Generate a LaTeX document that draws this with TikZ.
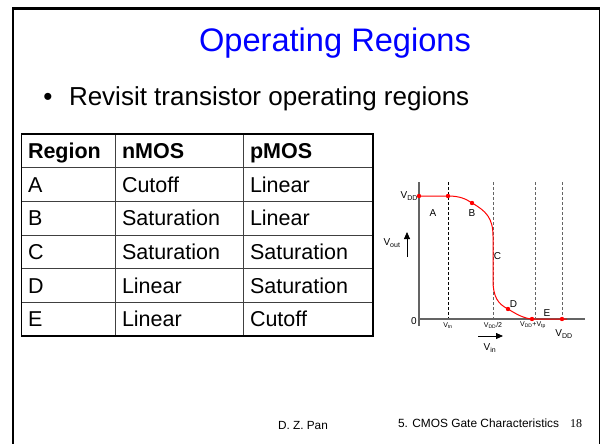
\documentclass[tikz,border=0pt]{standalone}
\usepackage{fontspec}
\setmainfont{Liberation Sans}
\newfontfamily\pagenumfont{Liberation Serif}
\usetikzlibrary{arrows.meta}
\definecolor{titleblue}{RGB}{0,0,255}
\definecolor{axisgrey}{RGB}{100,100,100}
\definecolor{curvered}{RGB}{255,0,0}
\newcommand\fsz[1]{\fontsize{#1}{#1}\selectfont}
\begin{document}
\begin{tikzpicture}[x=1pt,y=-1pt,
  every node/.style={inner sep=0pt, outer sep=0pt},
  cell/.style={anchor=base west, font=\fsz{21.5}},
  headcell/.style={anchor=base west, font=\fsz{21.5}\bfseries},
  lbl/.style={font=\fsz{10}},
  ticklbl/.style={font=\fsz{7}},
  guide/.style={dashed, dash pattern=on 3pt off 2pt, line width=0.7pt},
  axis/.style={draw=axisgrey, line width=1.1pt},
  vdot/.style={fill=curvered}]
\useasboundingbox (0,0) rectangle (602,444);
\fill[white] (0,0) rectangle (602,444);

% slide frame
\draw[line width=2.5pt] (13,444) -- (13,8.5) -- (599.5,8.5);
\draw[line width=1.5pt] (599.5,8.5) -- (599.5,444);

% title and bullet
\node[anchor=base, font=\fsz{32.6}, text=titleblue] (title) at (335,52) {Operating Regions};
\node[anchor=base, font=\fsz{26}] (dot) at (48,105) {\textbullet};
\node[anchor=base west, font=\fsz{26}] (bullet) at (69,105) {Revisit transistor operating regions};

% table grid
\foreach \y in {167.7,201.3,235,268.7,302.3}
  \draw[line width=0.8pt, draw=black!75] (21.7,\y) -- (373,\y);
\foreach \x in {115,243}
  \draw[line width=0.8pt, draw=black!75] (\x,134) -- (\x,336);
\draw[line width=1.5pt] (21.7,134) rectangle (373,336);

% table text
\node[headcell] (h1) at (28,158.5) {Region};
\node[headcell] (h2) at (122,158.5) {nMOS};
\node[headcell] (h3) at (250,158.5) {pMOS};
\foreach \r/\a/\b/\c [count=\i] in {A/Cutoff/Linear, B/Saturation/Linear, C/Saturation/Saturation, D/Linear/Saturation, E/Linear/Cutoff}{
  \node[cell] (r\i a) at (28,158.5+33.67*\i) {\r};
  \node[cell] (r\i b) at (122,158.5+33.67*\i) {\a};
  \node[cell] (r\i c) at (250,158.5+33.67*\i) {\b};
}

% transfer characteristic: guides
\draw[guide, draw=black] (448,182) -- (448,319);
\draw[guide, draw=axisgrey] (493,182) -- (493,319);
\draw[guide, draw=axisgrey] (535,182) -- (535,319);
\draw[guide, draw=axisgrey] (562,182) -- (562,319);

% axes
\draw[axis] (419,182) -- (419,326);
\draw[axis] (418,319) -- (585,319);

% curve
\draw[curvered, line width=1pt]
  (419,196) -- (448,196)
  .. controls (460,196) and (466,199) .. (472,203)
  .. controls (486,211) and (493,218) .. (493,236)
  -- (493,280)
  .. controls (493,297) and (498,304) .. (508,309)
  .. controls (516,314) and (524,318.5) .. (532,319)
  -- (567,319);
\foreach \p in {(419,196),(448,196),(472,203),(508,309),(532,319),(562,319)}
  \fill[vdot] \p circle (2.2);

% curve labels
\node[lbl, anchor=east] (vddtop) at (418,196) {V\textsubscript{DD}};
\node[lbl] (la) at (433,213) {A};
\node[lbl] (lb) at (472,213) {B};
\node[lbl] (lc) at (497.5,256) {C};
\node[lbl] (ld) at (513.5,304) {D};
\node[lbl] (le) at (547,313) {E};
\node[lbl] (zero) at (414,321) {0};
\node[lbl] (vout) at (392,243) {V\textsubscript{out}};
\coordinate (voutlo) at (407,257);
\coordinate (vouthi) at (407,232);
\draw[-{Triangle[length=7pt,width=6pt]}, line width=0.8pt] (voutlo) -- (vouthi);

\node[ticklbl] (vtn) at (448,325.5) {V\textsubscript{tn}};
\node[ticklbl] (vhalf) at (493,325.5) {V\textsubscript{DD}/2};
\node[ticklbl] (vtp) at (533,325.5) {V\textsubscript{DD}+V\textsubscript{tp}};
\node[lbl] (vddbot) at (564,334) {V\textsubscript{DD}};

\coordinate (vinlo) at (478,336);
\coordinate (vinhi) at (503,336);
\draw[-{Triangle[length=7pt,width=6pt]}, line width=0.8pt] (vinlo) -- (vinhi);
\node[lbl] (vin) at (490,348) {V\textsubscript{in}};

% footer
\node[anchor=base west, font=\fsz{11.8}] (author) at (278,429) {D. Z. Pan};
\node[anchor=base west, font=\fsz{11.9}] (chapter) at (398,427) {5. CMOS Gate Characteristics};
\node[anchor=base west, font=\fsz{12}\pagenumfont] (page) at (570,427) {18};
\end{tikzpicture}
\end{document}
